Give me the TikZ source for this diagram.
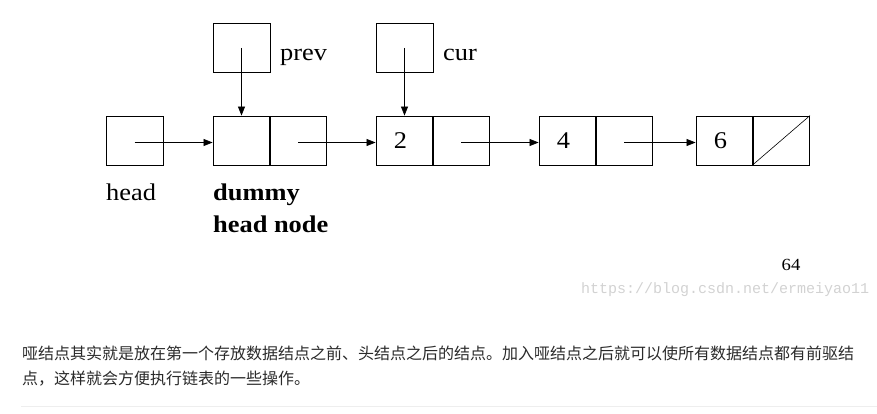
\documentclass[tikz,border=0pt]{standalone}
\usepackage{fontspec}
\usetikzlibrary{arrows.meta}
\setmainfont{Liberation Serif}
\newfontfamily\diagfont[FakeStretch=1.1]{Liberation Serif}
\newfontfamily\urlfont{Liberation Mono}
\newfontfamily\cjk{Noto Sans CJK SC}
\definecolor{txtgray}{HTML}{2A2A2A}
\definecolor{urlgray}{HTML}{D2D2D2}
\definecolor{rulegray}{HTML}{EEEEEE}
\begin{document}
\begin{tikzpicture}[x=1pt,y=-1pt,
  cell/.style={draw=black,line width=0.8pt,rectangle,inner sep=0pt,minimum width=57pt,minimum height=49pt,font=\diagfont\fontsize{24}{28}\selectfont},
  link/.style={line width=0.7pt,-{Triangle[length=9pt,width=7pt]}},
  lbl/.style={anchor=base west,inner sep=0pt,font=\diagfont\fontsize{24}{28}\selectfont},
  blbl/.style={anchor=base west,inner sep=0pt,font=\diagfont\bfseries\fontsize{24}{28}\selectfont}]
\useasboundingbox (0,0) rectangle (877,414);
% cells
\node[cell] (head) at (134.5,140.5) {};
\node[cell] (d1) at (241.5,140.5) {};
\node[cell] (d2) at (298,140.5) {};
\node[cell] (n2a) at (404.5,140.5) {\hspace*{-8pt}2};
\node[cell] (n2b) at (461,140.5) {};
\node[cell] (n4a) at (567.5,140.5) {\hspace*{-8pt}4};
\node[cell] (n4b) at (624,140.5) {};
\node[cell] (n6a) at (724.5,140.5) {\hspace*{-8pt}6};
\node[cell] (n6b) at (781,140.5) {};
\draw[line width=0.6pt] (n6b.south west) -- (n6b.north east);
\node[cell] (prev) at (241.5,48) {};
\node[cell] (cur) at (404.5,48) {};
% connectors
\draw[link] ([yshift=-2pt]head.center) -- ([yshift=-2pt]d1.west);
\draw[link] ([yshift=-2pt]d2.center) -- ([yshift=-2pt]n2a.west);
\draw[link] ([yshift=-2pt]n2b.center) -- ([yshift=-2pt]n4a.west);
\draw[link] ([yshift=-2pt]n4b.center) -- ([yshift=-2pt]n6a.west);
\draw[link] (prev.center) -- (d1.north);
\draw[link] (cur.center) -- (n2a.north);
% labels
\node[lbl] (tprev) at (280,61) {prev};
\node[lbl] (tcur) at (443,61) {cur};
\node[lbl] (thead) at (106,200) {head};
\node[blbl] (tdummy) at (213,200) {dummy};
\node[blbl] (thn) at (213,232) {head node};
\node[inner sep=0pt,font=\diagfont\fontsize{17}{20}\selectfont] (pg) at (791,265) {64};
\node[anchor=west,inner sep=0pt,text=urlgray,font=\urlfont\fontsize{15}{18}\selectfont] (url) at (581,290) {https://blog.csdn.net/ermeiyao11};
\node[anchor=west,inner sep=0pt,text=txtgray,font=\cjk\fontsize{16}{20}\selectfont] (l1) at (22,353) {哑结点其实就是放在第一个存放数据结点之前、头结点之后的结点。加入哑结点之后就可以使所有数据结点都有前驱结};
\node[anchor=west,inner sep=0pt,text=txtgray,font=\cjk\fontsize{16}{20}\selectfont] (l2) at (22,379) {点，这样就会方便执行链表的一些操作。};
\draw[rulegray,line width=1pt] (21,406) -- (877,406);
\end{tikzpicture}
\end{document}
